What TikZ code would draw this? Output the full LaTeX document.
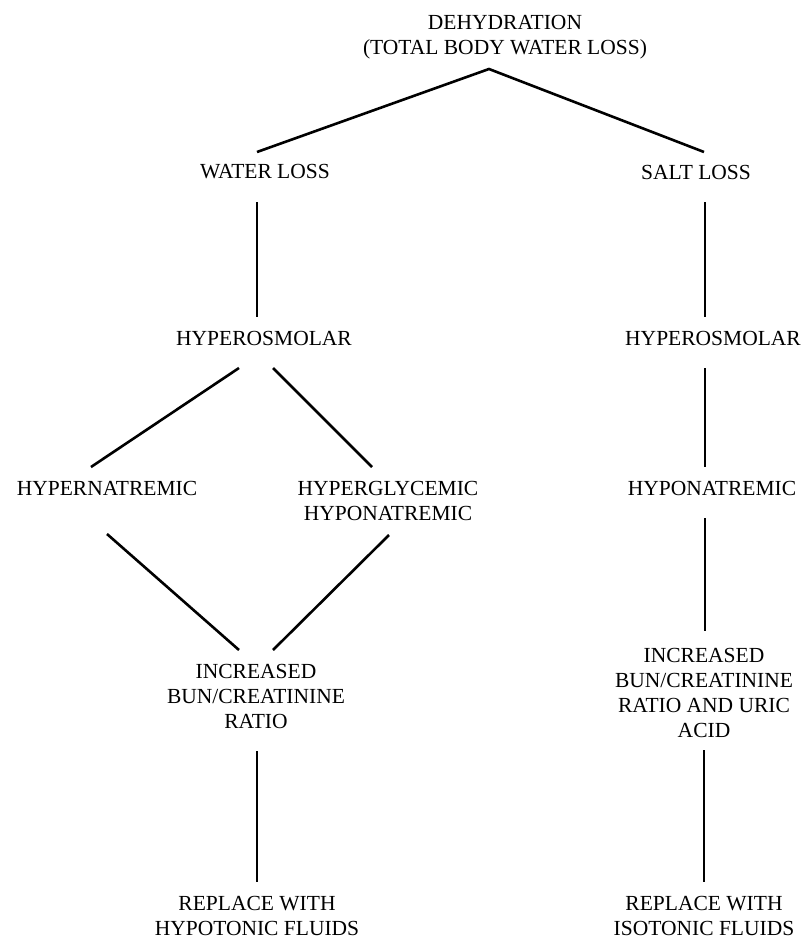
\documentclass[tikz,border=0pt]{standalone}
\usepackage{fontspec}
\setmainfont{Liberation Serif}
\usetikzlibrary{calc}

\begin{document}
\begin{tikzpicture}[
    x=1pt, y=-1pt,
    lbl/.style={inner sep=0, align=center, font=\fontsize{21.5}{25}\selectfont},
    link/.style={line width=2.6pt}
]
    \useasboundingbox (0,0) rectangle (804,939);

    \node (title) [lbl] at (505,37) {DEHYDRATION\\(TOTAL BODY WATER LOSS)};

    % water loss branch
    \node (water) [lbl] at (265,172) {WATER LOSS};
    \node (hypL) [lbl] at (264,338) {HYPEROSMOLAR};
    \node (natreL) [lbl] at (107,488) {HYPERNATREMIC};
    \node (glyc) [lbl] at (388,500.5) {HYPERGLYCEMIC\\HYPONATREMIC};
    \node (bunL) [lbl] at (256,696) {INCREASED\\BUN/CREATININE\\RATIO};
    \node (fluidL) [lbl] at (257,915.5) {REPLACE WITH\\HYPOTONIC FLUIDS};

    % salt loss branch
    \node (salt) [lbl] at (696,172) {SALT LOSS};
    \node (hypR) [lbl] at (713,338) {HYPEROSMOLAR};
    \node (natreR) [lbl] at (712,488) {HYPONATREMIC};
    \node (bunR) [lbl] at (704,693) {INCREASED\\BUN/CREATININE\\RATIO AND URIC\\ACID};
    \node (fluidR) [lbl] at (704,915.5) {REPLACE WITH\\ISOTONIC FLUIDS};

    \draw [link] ($(water)+(-8,-20)$) -- ($(title)+(-16,32)$) -- ($(salt)+(8,-20)$);

    \draw [link] ($(water)+(-8,30)$) -- ($(hypL)+(-7,-21)$);
    \draw [link] ($(hypL)+(-25,30)$) -- ($(natreL)+(-16,-21)$);
    \draw [link] ($(hypL)+(9,30)$) -- ($(glyc)+(-16,-33.5)$);
    \draw [link] ($(natreL)+(0,46)$) -- ($(bunL)+(-17,-46)$);
    \draw [link] ($(glyc)+(1,34.5)$) -- ($(bunL)+(17,-46)$);
    \draw [link] ($(bunL)+(1,55)$) -- ($(fluidL)+(0,-33.5)$);

    \draw [link] ($(salt)+(9,30)$) -- ($(hypR)+(-8,-21)$);
    \draw [link] ($(hypR)+(-8,30)$) -- ($(natreR)+(-7,-21)$);
    \draw [link] ($(natreR)+(-7,30)$) -- ($(bunR)+(1,-62)$);
    \draw [link] ($(bunR)+(0,57)$) -- ($(fluidR)+(0,-33.5)$);
\end{tikzpicture}
\end{document}
